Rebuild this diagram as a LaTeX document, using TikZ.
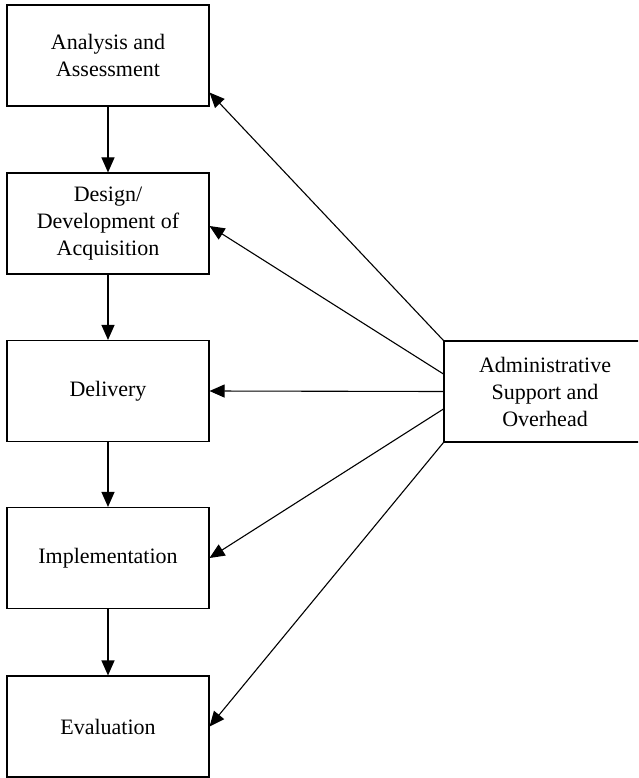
\documentclass[tikz,border=0pt]{standalone}
\usepackage{fontspec}
\setmainfont{Liberation Serif}
\usetikzlibrary{arrows.meta,calc}
\begin{document}
\begin{tikzpicture}[x=1pt,y=-1pt,
  stagebox/.style={draw,line width=1.1pt,minimum width=202pt,minimum height=101pt,
    inner sep=0pt,align=center,font=\fontsize{22}{27}\selectfont},
  flow/.style={line width=1.1pt,-{Triangle[length=15pt,width=13pt]}}]
\useasboundingbox (0,0) rectangle (638,778);
\begin{scope}
\clip (0,0) rectangle (638,778);
\node[stagebox] (ana) at (108,55.5) {Analysis and\\Assessment};
\node[stagebox] (des) at (108,223.5) {Design/\\Development of\\Acquisition};
\node[stagebox] (del) at (108,391) {Delivery};
\node[stagebox] (imp) at (108,558) {Implementation};
\node[stagebox] (eva) at (108,726.5) {Evaluation};
\node[stagebox] (adm) at (545,391.5) {Administrative\\Support and\\Overhead};
\end{scope}
\draw[flow] (ana) -- (des);
\draw[flow] (des) -- (del);
\draw[flow] (del) -- (imp);
\draw[flow] (imp) -- (eva);
\draw[flow] (adm.north west) -- ($(ana.south east)+(0,-14)$);
\draw[flow] ($(adm.west)+(0,-17.5)$) -- ($(des.east)+(0,2.5)$);
\draw[flow] (adm.west) -- (del.east);
\draw[flow] ($(adm.west)+(0,17.5)$) -- (imp.east);
\draw[flow] (adm.south west) -- (eva.east);
\end{tikzpicture}
\end{document}
